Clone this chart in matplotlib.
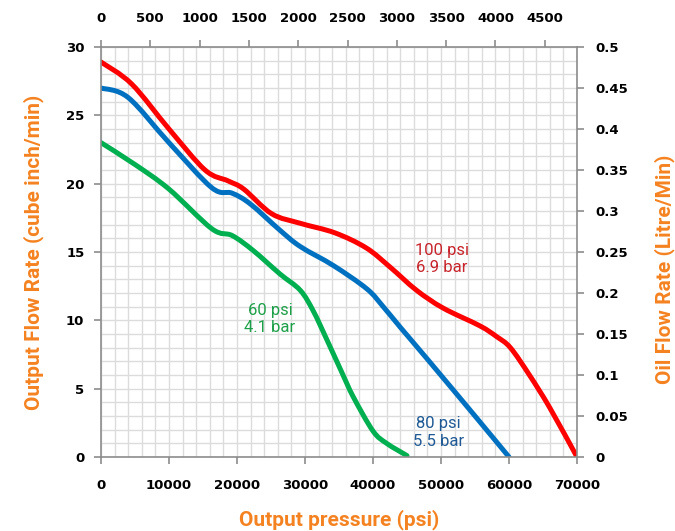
import numpy as np
import matplotlib.pyplot as plt
from matplotlib.path import Path
from matplotlib.patches import PathPatch
from matplotlib.ticker import MultipleLocator

# pressure (psi) vs output flow rate (cube inch/min)
p100 = [0, 4500, 10000, 15300, 18700, 21000, 25100, 29300, 34400, 39000, 42500, 46400, 50300, 55700, 58200, 60200, 63000, 66000, 70000]
q100 = [28.9, 27.3, 24.0, 21.0, 20.2, 19.6, 17.8, 17.1, 16.4, 15.3, 13.9, 12.2, 10.9, 9.6, 8.8, 8.0, 6.0, 3.6, 0]

p80 = [0, 4000, 10000, 16300, 19300, 22000, 26300, 29300, 34200, 39100, 41500, 44000, 48100, 55000, 60000]
q80 = [27.0, 26.3, 23.0, 19.7, 19.3, 18.5, 16.6, 15.4, 14.0, 12.3, 11.0, 9.5, 7.1, 3.0, 0]

p60 = [0, 5000, 10000, 16300, 19300, 22400, 26300, 29300, 31200, 33200, 35500, 37100, 40000, 42000, 45000]
q60 = [23.0, 21.4, 19.6, 16.7, 16.2, 15.1, 13.4, 12.2, 10.7, 8.6, 6.1, 4.4, 1.9, 1.0, 0.1]

psi_per_bar = 14.5038
orange = '#F58220'


def smooth_line(ax, xs, ys, color):
    # excel-style smoothed line: bezier segments through the points (done in display space)
    pts = ax.transData.transform(np.column_stack([xs, ys]))
    verts = [pts[0]]
    codes = [Path.MOVETO]
    n = len(pts)
    for i in range(n - 1):
        p0 = pts[max(i - 1, 0)]
        p1 = pts[i]
        p2 = pts[i + 1]
        p3 = pts[min(i + 2, n - 1)]
        c1 = p1 + (p2 - p0) / 6.0
        c2 = p2 - (p3 - p1) / 6.0
        verts += [c1, c2, p2]
        codes += [Path.CURVE4] * 3
    path = Path(ax.transData.inverted().transform(np.array(verts)), codes)
    ax.add_patch(PathPatch(path, fill=False, edgecolor=color, lw=3.6,
                           capstyle='round', joinstyle='round'))


fig = plt.figure(figsize=(6.75, 5.31), dpi=100)
ax = fig.add_axes([0.1496, 0.1394, 0.7052, 0.7721])

ax.set_xlim(0, 70000)
ax.set_ylim(0, 30)
ax.xaxis.set_major_locator(MultipleLocator(10000))
ax.xaxis.set_minor_locator(MultipleLocator(2000))
ax.yaxis.set_major_locator(MultipleLocator(5))
ax.yaxis.set_minor_locator(MultipleLocator(1))
ax.grid(which='both', color='#dcdcdc', lw=1.0)
ax.set_axisbelow(True)

smooth_line(ax, p60, q60, '#00B050')
smooth_line(ax, p80, q80, '#0070C0')
smooth_line(ax, p100, q100, '#FF0000')

for s in ax.spines.values():
    s.set_color('#8c8c8c')
    s.set_linewidth(1.2)
ax.tick_params(which='minor', length=0)
ax.tick_params(which='major', length=5, color='#8c8c8c', width=1.2, labelsize=9.5)
ax.tick_params(axis='x', pad=11)
ax.tick_params(axis='y', pad=7)
for lab in ax.get_xticklabels() + ax.get_yticklabels():
    lab.set_fontweight('bold')

ax.set_xlabel('Output pressure (psi)', color=orange, fontsize=15, fontweight='bold', family='Roboto', labelpad=12)
ax.set_ylabel('Output Flow Rate (cube inch/min)', color=orange, fontsize=15, fontweight='bold', family='Roboto', labelpad=16)

# right axis: litre/min
ax2 = ax.twinx()
ax2.set_ylim(0, 0.5)
ax2.set_yticks(np.arange(0, 0.51, 0.05))
ax2.set_yticklabels(['0', '0.05', '0.1', '0.15', '0.2', '0.25', '0.3', '0.35', '0.4', '0.45', '0.5'])
ax2.tick_params(length=5, color='#8c8c8c', width=1.2, labelsize=9.5, pad=8)
for lab in ax2.get_yticklabels():
    lab.set_fontweight('bold')
for s in ax2.spines.values():
    s.set_visible(False)
ax2.set_ylabel('Oil Flow Rate (Litre/Min)', color=orange, fontsize=15, fontweight='bold', family='Roboto')
ax2.yaxis.set_label_coords(1.163, 0.458)

# top axis: bar
ax3 = ax.secondary_xaxis('top', functions=(lambda x: x / psi_per_bar, lambda x: x * psi_per_bar))
ax3.set_xticks(np.arange(0, 4501, 500))
ax3.tick_params(length=5, color='#8c8c8c', width=1.2, labelsize=9.5, pad=11)
for lab in ax3.get_xticklabels():
    lab.set_fontweight('bold')
ax3.spines['top'].set_visible(False)

ax.text(50150, 14.5, '100 psi\n6.9 bar', color='#C8242B', fontsize=12, family='Roboto', ha='center', va='center', linespacing=1.2)
ax.text(49600, 1.8, '80 psi\n5.5 bar', color='#1F5A96', fontsize=12, family='Roboto', ha='center', va='center', linespacing=1.2)
ax.text(24850, 10.1, '60 psi\n4.1 bar', color='#1EA04A', fontsize=12, family='Roboto', ha='center', va='center', linespacing=1.2)

fig.savefig('out.png', dpi=100)
